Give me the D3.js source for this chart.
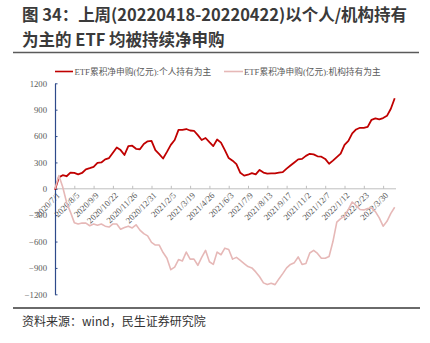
<!DOCTYPE html>
<html>
<head>
<meta charset="utf-8">
<script src="https://cdn.jsdelivr.net/npm/d3@7/dist/d3.min.js"></script>
<style>
  html, body { margin: 0; padding: 0; background: #fff; }
  svg { display: block; }
</style>
</head>
<body>
<svg id="chart" width="430" height="343"></svg>
<script>
// Tick labels along the x axis: one every 25 trading days from 2020/7/1.
const tickLabels = ["2020/7/1","2020/8/5","2020/9/9","2020/10/22","2020/11/26","2020/12/31",
  "2021/2/5","2021/3/19","2021/4/26","2021/6/3","2021/7/9","2021/8/13","2021/9/17",
  "2021/11/2","2021/12/7","2022/1/12","2022/2/23","2022/3/30"];
const tickStep = 25;      // trading days between labels
const lastDay = 440;      // 2022/4/22
const sampleStep = 5;     // trading days between stored values

// Cumulative ETF net subscription (亿元), one value every 5 trading days.
const retailLed = [-10,130,155,143,185,180,165,180,222,235,250,295,300,335,350,410,470,440,385,485,
  490,455,450,510,540,545,440,395,345,420,500,555,670,670,680,663,660,610,555,578,
  530,485,560,525,440,350,320,280,182,150,160,178,165,215,185,172,175,176,185,190,
  230,265,300,335,340,375,398,392,370,365,340,285,320,360,400,500,545,630,675,694,
  694,705,785,800,790,805,830,910,1030];
const institutionLed = [0,150,20,-155,-265,-385,-400,-390,-390,-420,-400,-415,-400,-425,-435,-400,-400,-460,-440,-425,
  -445,-410,-470,-510,-535,-610,-640,-640,-725,-790,-920,-890,-805,-820,-720,-800,-800,-870,-780,-700,
  -830,-860,-720,-750,-675,-690,-800,-780,-815,-850,-885,-900,-945,-1000,-1070,-1089,-1075,-1090,-1025,-965,
  -900,-860,-840,-775,-860,-850,-730,-700,-735,-790,-790,-770,-600,-380,-340,-310,-235,-150,-190,-235,
  -240,-225,-218,-260,-330,-425,-370,-280,-210];
const yTicks = [1200,900,600,300,0,-300,-600,-900,-1200];

const seriesNames = ["ETF累积净申购(亿元):个人持有为主", "ETF累积净申购(亿元):机构持有为主"];
const seriesColors = ["#C00000", "#E6B8B7"];

const svg = d3.select("#chart");
const serif = "'Liberation Serif','Times New Roman','Noto Sans CJK SC',serif";
const sans = "'Noto Sans CJK SC','Noto Sans',sans-serif";

// Title block
const title = svg.append("g").attr("font-family", sans).attr("font-weight", 700)
  .attr("fill", "#3a3a3a").attr("font-size", 16.5);
title.append("text").attr("x", 22).attr("y", 21)
  .attr("textLength", 385).attr("lengthAdjust", "spacing")
  .text("图 34：上周(20220418-20220422)以个人/机构持有");
title.append("text").attr("x", 22).attr("y", 46)
  .text("为主的 ETF 均被持续净申购");
svg.append("line").attr("x1", 13).attr("x2", 419).attr("y1", 52.5).attr("y2", 52.5)
  .attr("stroke", "#5a5a5a").attr("stroke-width", 1.6);

// Scales
const x = d3.scaleLinear().domain([0, lastDay]).range([55, 394.7]);
const y = d3.scaleLinear().domain([-1200, 1200]).range([294.3, 83.3]);

// Legend
const legend = svg.append("g").attr("font-family", serif).attr("font-size", 8.7).attr("fill", "#595959");
const legendPos = [{lx: 55, len: 18, tx: 74.5}, {lx: 224, len: 19, tx: 244}];
seriesNames.forEach((name, i) => {
  const p = legendPos[i];
  legend.append("line").attr("x1", p.lx).attr("x2", p.lx + p.len).attr("y1", 71.5).attr("y2", 71.5)
    .attr("stroke", seriesColors[i]).attr("stroke-width", 1.6);
  legend.append("text").attr("x", p.tx).attr("y", 74.5).text(name);
});

// X axis along zero, ticks pointing up, rotated date labels
const xTickVals = tickLabels.map((_, i) => i * tickStep);
const xAxis = d3.axisBottom(x).tickValues(xTickVals)
  .tickFormat((d, i) => tickLabels[i]).tickSizeInner(-3).tickSizeOuter(0);
const gx = svg.append("g").attr("transform", `translate(0,${y(0)})`).call(xAxis);
gx.select(".domain").attr("stroke", "#bfbfbf").attr("d", `M55,0H396`);
gx.selectAll(".tick line").attr("stroke", "#bfbfbf");
gx.selectAll(".tick text")
  .attr("font-family", serif).attr("font-size", 8.7).attr("fill", "#595959")
  .attr("text-anchor", "end").attr("y", 0).attr("dy", "0.35em")
  .attr("transform", "translate(3,5) rotate(-45)");

// Y axis
const yAxis = d3.axisLeft(y).tickValues(yTicks).tickFormat(d3.format("d"))
  .tickSizeInner(-2.5).tickSizeOuter(0).tickPadding(8);
const gy = svg.append("g").attr("transform", "translate(55,0)").call(yAxis);
gy.select(".domain").attr("stroke", "#2E4A8A").attr("stroke-width", 1.2);
gy.selectAll(".tick line").attr("stroke", "#2E4A8A");
gy.selectAll(".tick text").attr("font-family", serif).attr("font-size", 8.7).attr("fill", "#595959");

// Lines
const line = d3.line().x((d, i) => x(i * sampleStep)).y(d => y(d));
[retailLed, institutionLed].forEach((vals, i) => {
  svg.append("path").datum(vals).attr("d", line).attr("fill", "none")
    .attr("stroke", seriesColors[i]).attr("stroke-width", i === 0 ? 1.8 : 1.6)
    .attr("stroke-linejoin", "round");
});

// Footer
svg.append("line").attr("x1", 13).attr("x2", 420).attr("y1", 308).attr("y2", 308)
  .attr("stroke", "#6a6a6a").attr("stroke-width", 2);
svg.append("text").attr("x", 22).attr("y", 326).attr("font-family", sans).attr("font-size", 12)
  .attr("fill", "#333").text("资料来源：wind，民生证券研究院");
</script>
</body>
</html>
